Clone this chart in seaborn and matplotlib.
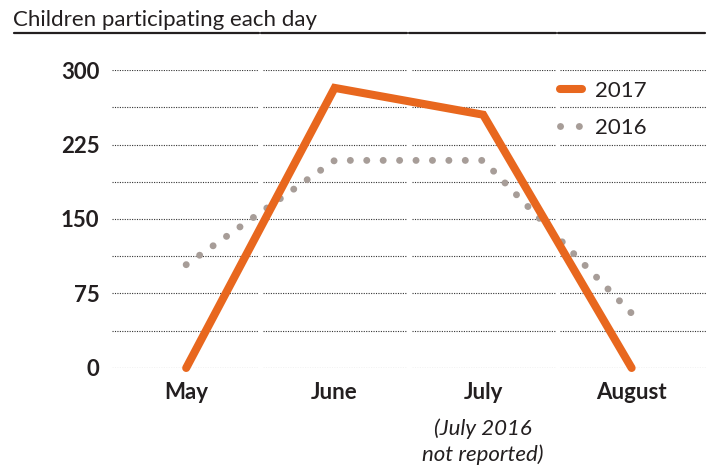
import matplotlib
matplotlib.use('Agg')
import matplotlib.pyplot as plt
from matplotlib.lines import Line2D
import seaborn as sns
import pandas as pd

# data
months = ['May', 'June', 'July', 'August']
kids_2017 = [0, 282, 255, 0]
kids_2016 = [104, 209, 209, 55]
y_ticks = [0, 75, 150, 225, 300]

orange = '#E8671E'
grey = '#A79D98'
ink = '#231F20'

sns.set_theme(style='white')
plt.rcParams['font.family'] = ['Lato', 'DejaVu Sans']

fig = plt.figure(figsize=(7.13, 4.69), dpi=100)
ax = fig.add_axes([0.157, 0.2154, 0.833, 0.6353])

df17 = pd.DataFrame({'month': months, 'kids': kids_2017})
df16 = pd.DataFrame({'month': months, 'kids': kids_2016})

# dotted grid, broken between month columns
gap = 0.018
for y in [i * 37.5 for i in range(9)]:
    for i in range(len(months)):
        x0 = i - 0.5 + (gap if i > 0 else 0)
        x1 = i + 0.5 - (gap if i < len(months) - 1 else 0)
        ax.plot([x0, x1], [y, y], color='#333333', lw=0.8, ls=(0, (1, 1.2)), zorder=1)

sns.lineplot(data=df16, x='month', y='kids', ax=ax, color=grey, lw=5,
             linestyle=(0, (0.01, 2.355)), dash_capstyle='round', clip_on=False, zorder=2)
sns.lineplot(data=df17, x='month', y='kids', ax=ax, color=orange, lw=5.8,
             solid_capstyle='round', solid_joinstyle='miter', clip_on=False, zorder=3)

ax.set_xlim(-0.5, 3.5)
ax.set_ylim(0, 300)
ax.set_xticks(range(len(months)))
ax.set_xticklabels(months, fontsize=16, fontweight='bold', color=ink)
ax.set_yticks(y_ticks)
ax.set_yticklabels([str(v) for v in y_ticks], fontsize=16, fontweight='bold', color=ink)
ax.tick_params(axis='x', length=0, pad=10)
ax.tick_params(axis='y', length=0, pad=9)
ax.set_xlabel('')
ax.set_ylabel('')
for s in ax.spines.values():
    s.set_visible(False)

ax.text(2, -51, '(July 2016\nnot reported)', ha='center', va='top', fontsize=16,
        style='italic', color=ink, linespacing=1.3)

# title and its broken rule
fig.text(13 / 713, 1 - 26 / 469, 'Children participating each day', fontsize=16,
         color=ink, ha='left', va='baseline')
rule_y = 1 - 33 / 469
edges = [13, 260, 408, 557, 706]
for a, b in zip(edges[:-1], edges[1:]):
    fig.add_artist(Line2D([(a + 1) / 713, (b - 1) / 713], [rule_y, rule_y],
                          color=ink, lw=1.6))

handles = [
    Line2D([], [], color=orange, lw=5.8, solid_capstyle='round'),
    Line2D([], [], color=grey, lw=5, linestyle=(0, (0.01, 2.7)), dash_capstyle='round'),
]
leg = ax.legend(handles, ['2017', '2016'], loc='center left',
                bbox_to_anchor=(0.72, 0.868), frameon=False, fontsize=16,
                handlelength=1.0, handletextpad=0.6, labelspacing=0.75)
for t in leg.get_texts():
    t.set_color(ink)

fig.savefig('out.png', dpi=100, facecolor='white')
